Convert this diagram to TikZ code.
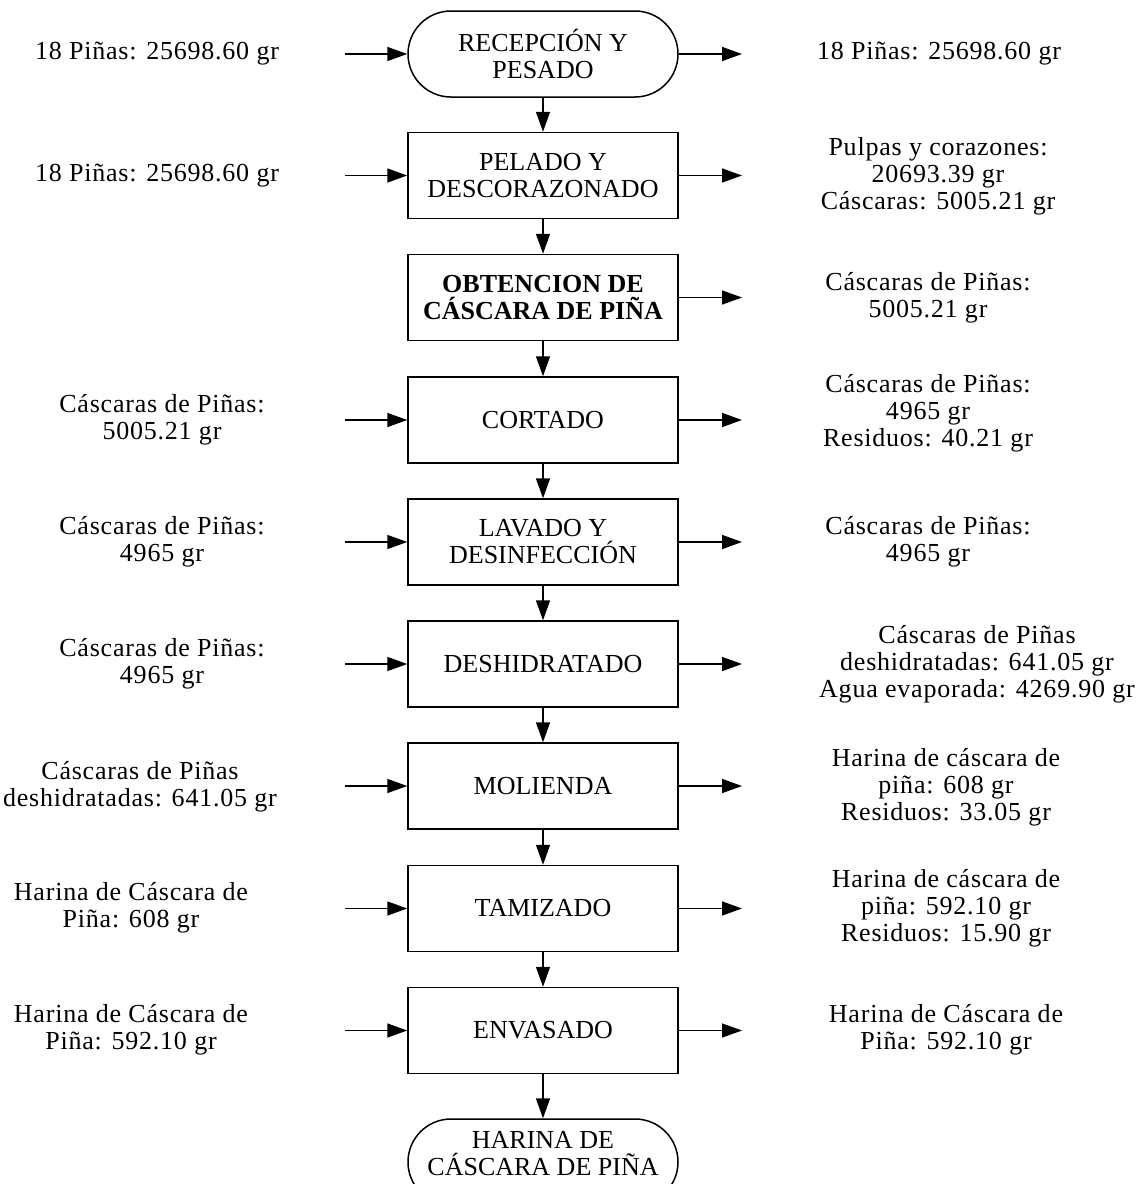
\documentclass[tikz,border=0pt]{standalone}
\usepackage{fontspec}
\setmainfont{Liberation Serif}
\newfontfamily\labelfont[LetterSpace=3]{Liberation Serif}
\usetikzlibrary{arrows.meta}
\tikzset{
  txt/.style={font=\fontsize{26}{27}\selectfont, align=center, inner sep=0pt},
  lbl/.style={txt, font=\fontsize{26}{27}\labelfont},
  procbox/.style={txt, draw, line width=1.5pt, minimum width=270pt, minimum height=86pt},
  termbox/.style={procbox, rounded corners=43pt},
  flow/.style={line width=1.5pt, -{Triangle[length=20pt,width=14pt]}}
}
\begin{document}
\begin{tikzpicture}[x=1pt,y=-1pt]
\useasboundingbox (0,0) rectangle (1148,1184);
\clip (0,0) rectangle (1148,1184);
% process column
\node[termbox] (r0) at (543,54) {RECEPCIÓN Y\\PESADO};
\node[procbox] (b1) at (543,175.5) {PELADO Y\\DESCORAZONADO};
\node[procbox, font=\fontsize{26}{27}\selectfont\bfseries] (b2) at (543,297.5) {OBTENCION DE\\CÁSCARA DE PIÑA};
\node[procbox] (b3) at (543,420) {CORTADO};
\node[procbox] (b4) at (543,542) {LAVADO Y\\DESINFECCIÓN};
\node[procbox] (b5) at (543,664) {DESHIDRATADO};
\node[procbox] (b6) at (543,786) {MOLIENDA};
\node[procbox] (b7) at (543,908.5) {TAMIZADO};
\node[procbox] (b8) at (543,1030.5) {ENVASADO};
\node[termbox] (t9) at (543,1162) {};
\node[txt] (t9text) at (543,1154) {HARINA DE\\CÁSCARA DE PIÑA};
% vertical flow
\draw[flow] (r0) -- (b1);
\draw[flow] (b1) -- (b2);
\draw[flow] (b2) -- (b3);
\draw[flow] (b3) -- (b4);
\draw[flow] (b4) -- (b5);
\draw[flow] (b5) -- (b6);
\draw[flow] (b6) -- (b7);
\draw[flow] (b7) -- (b8);
\draw[flow] (b8) -- (t9);
% input and output arrows
\foreach \n/\yy in {r0/54,b1/175.5,b3/420,b4/542,b5/664,b6/786,b7/908.5,b8/1030.5}{
  \coordinate (in-\n) at (345,\yy);
  \draw[flow] (in-\n) -- (\n.west);
  \coordinate (out-\n) at (742,\yy);
  \draw[flow] (\n.east) -- (out-\n);
}
\coordinate (out-b2) at (742,297.5);
\draw[flow] (b2.east) -- (out-b2);
% left labels
\node[lbl] (l0) at (157,54) {18 Piñas: 25698.60 gr};
\node[lbl] (l1) at (157,176) {18 Piñas: 25698.60 gr};
\node[lbl] (l3) at (162,420) {Cáscaras de Piñas:\\5005.21 gr};
\node[lbl] (l4) at (162,542) {Cáscaras de Piñas:\\4965 gr};
\node[lbl] (l5) at (162,664) {Cáscaras de Piñas:\\4965 gr};
\node[lbl] (l6) at (140,787) {Cáscaras de Piñas\\deshidratadas: 641.05 gr};
\node[lbl] (l7) at (131,908) {Harina de Cáscara de\\Piña: 608 gr};
\node[lbl] (l8) at (131,1030) {Harina de Cáscara de\\Piña: 592.10 gr};
% right labels
\node[lbl] (o0) at (939,54) {18 Piñas: 25698.60 gr};
\node[lbl] (o1) at (938,176) {Pulpas y corazones:\\20693.39 gr\\Cáscaras: 5005.21 gr};
\node[lbl] (o2) at (928,297.5) {Cáscaras de Piñas:\\5005.21 gr};
\node[lbl] (o3) at (928,413) {Cáscaras de Piñas:\\4965 gr\\Residuos: 40.21 gr};
\node[lbl] (o4) at (928,542) {Cáscaras de Piñas:\\4965 gr};
\node[lbl] (o5) at (977,664) {Cáscaras de Piñas\\deshidratadas: 641.05 gr\\Agua evaporada: 4269.90 gr};
\node[lbl] (o6) at (946,787) {Harina de cáscara de\\piña: 608 gr\\Residuos: 33.05 gr};
\node[lbl] (o7) at (946,908) {Harina de cáscara de\\piña: 592.10 gr\\Residuos: 15.90 gr};
\node[lbl] (o8) at (946,1030) {Harina de Cáscara de\\Piña: 592.10 gr};
\end{tikzpicture}
\end{document}
